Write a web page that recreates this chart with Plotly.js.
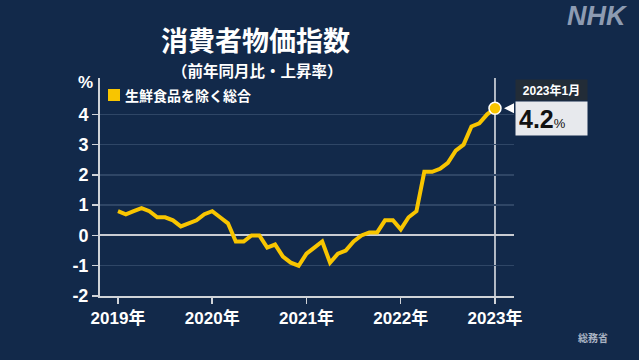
<!DOCTYPE html>
<html>
<head>
<meta charset="utf-8">
<script src="https://cdn.plot.ly/plotly-3.0.1.min.js"></script>
<style>
html,body{margin:0;padding:0;background:#12294a;}
#chart{width:639px;height:360px;}
</style>
</head>
<body>
<div id="chart"></div>
<script>
// Monthly index: 0 = 2019年1月 ... 48 = 2023年1月
const months = [];
for (let i = 0; i <= 48; i++) months.push(i);

const coreCPI = [
  0.8, 0.7, 0.8, 0.9, 0.8, 0.6, 0.6, 0.5, 0.3, 0.4, 0.5, 0.7,
  0.8, 0.6, 0.4, -0.2, -0.2, 0.0, 0.0, -0.4, -0.3, -0.7, -0.9, -1.0,
  -0.6, -0.4, -0.2, -0.9, -0.6, -0.5, -0.2, 0.0, 0.1, 0.1, 0.5, 0.5,
  0.2, 0.6, 0.8, 2.1, 2.1, 2.2, 2.4, 2.8, 3.0, 3.6, 3.7, 4.0,
  4.2
];

const xTickVals = [0, 12, 24, 36, 48];
const xTickText = ['2019年', '2020年', '2021年', '2022年', '2023年'];
const yTickVals = [-2, -1, 0, 1, 2, 3, 4];
const yTickText = ['-2', '-1', '0', '1', '2', '3', '4'];

const seriesName = '生鮮食品を除く総合';
const lastLabel = '2023年1月';

const lastX = months[months.length - 1];
const lastY = coreCPI[coreCPI.length - 1];

const BG = '#12294a';
const YELLOW = '#f8c500';
const JP = '"Noto Sans CJK JP", "Liberation Sans", sans-serif';
const NUM = '"Liberation Sans", "Noto Sans CJK JP", sans-serif';

const traces = [
  {
    x: months, y: coreCPI, type: 'scatter', mode: 'lines',
    line: {color: YELLOW, width: 4}, hoverinfo: 'skip', showlegend: false
  },
  {
    x: [lastX], y: [lastY], type: 'scatter', mode: 'markers',
    marker: {color: YELLOW, size: 12, line: {color: '#ffffff', width: 1.5}},
    hoverinfo: 'skip', showlegend: false
  }
];

const layout = {
  width: 639, height: 360,
  paper_bgcolor: BG, plot_bgcolor: BG,
  margin: {l: 100, r: 125, t: 78, b: 64},
  showlegend: false,
  xaxis: {
    range: [-2.29, 50.42], tickvals: xTickVals, ticktext: xTickText,
    showgrid: false, zeroline: false,
    showline: true, linecolor: '#d0d3d8', linewidth: 2,
    ticks: 'outside', ticklen: 6, tickcolor: '#d0d3d8', tickwidth: 1.5,
    tickfont: {family: NUM, size: 17, color: '#ffffff', weight: 'bold'},
    fixedrange: true
  },
  yaxis: {
    range: [-2, 5.2], tickvals: yTickVals, ticktext: yTickText,
    showgrid: true, gridcolor: '#2f4666', gridwidth: 1.5,
    zeroline: true, zerolinecolor: '#c9ccd2', zerolinewidth: 2,
    showline: true, linecolor: '#d0d3d8', linewidth: 2,
    ticks: 'outside', ticklen: 6, tickcolor: '#d0d3d8', tickwidth: 1.5,
    tickfont: {family: NUM, size: 18, color: '#ffffff', weight: 'bold'},
    fixedrange: true
  },
  shapes: [
    {type: 'line', xref: 'x', yref: 'paper', x0: lastX, x1: lastX, y0: -0.028, y1: 1,
     line: {color: '#e8eaee', width: 1.5}, layer: 'between'},
    {type: 'rect', xref: 'paper', yref: 'paper',
     x0: (108 - 100) / 414, x1: (120 - 100) / 414, y0: (296 - 101) / 218, y1: (296 - 89) / 218,
     fillcolor: YELLOW, line: {width: 0}},
    {type: 'path', xref: 'x', yref: 'y', xsizemode: 'pixel', ysizemode: 'pixel',
     xanchor: lastX, yanchor: lastY, path: 'M 9 0 L 20 5.5 L 20 -5.5 Z',
     fillcolor: '#ffffff', line: {width: 0}}
  ],
  annotations: [
    {text: '<b>消費者物価指数</b>', xref: 'paper', yref: 'paper',
     x: (255 - 100) / 414, y: (296 - 40) / 218, xanchor: 'center', yanchor: 'middle',
     showarrow: false, font: {family: JP, size: 27, color: '#ffffff'}},
    {text: '<b>（前年同月比・上昇率）</b>', xref: 'paper', yref: 'paper',
     x: (257 - 100) / 414, y: (296 - 70) / 218, xanchor: 'center', yanchor: 'middle',
     showarrow: false, font: {family: JP, size: 15.5, color: '#ffffff'}},
    {text: '<b>%</b>', xref: 'paper', yref: 'paper',
     x: (85 - 100) / 414, y: (296 - 82) / 218, xanchor: 'center', yanchor: 'middle',
     showarrow: false, font: {family: NUM, size: 17, color: '#ffffff'}},
    {text: '<b>' + seriesName + '</b>', xref: 'paper', yref: 'paper',
     x: (123 - 100) / 414, y: (296 - 95) / 218, xanchor: 'left', yanchor: 'middle',
     showarrow: false, font: {family: JP, size: 14, color: '#ffffff'}},
    {text: '<b>' + lastLabel + '</b>', xref: 'x', yref: 'y', x: lastX, y: lastY,
     xanchor: 'left', yanchor: 'bottom', xshift: 20, yshift: 7,
     width: 65, height: 14, borderpad: 3, bgcolor: '#222c37', align: 'center',
     showarrow: false, font: {family: NUM, size: 12, color: '#ffffff'}},
    {text: '<b>' + lastY.toFixed(1) + '</b><span style="font-size:13px">%</span>', xref: 'x', yref: 'y', x: lastX, y: lastY,
     xanchor: 'left', yanchor: 'top', xshift: 20, yshift: 7,
     width: 65, height: 27, borderpad: 3, bgcolor: '#e7e9ed', align: 'left',
     showarrow: false, font: {family: NUM, size: 25, color: '#111111'}},
    {text: '<b><i>NHK</i></b>', xref: 'paper', yref: 'paper',
     x: (597 - 100) / 414, y: (296 - 16) / 218, xanchor: 'center', yanchor: 'middle',
     showarrow: false, font: {family: NUM, size: 27, color: '#8d9bb2'}},
    {text: '<b>総務省</b>', xref: 'paper', yref: 'paper',
     x: (593 - 100) / 414, y: (296 - 337) / 218, xanchor: 'center', yanchor: 'middle',
     showarrow: false, font: {family: JP, size: 10, color: '#a9b3c3'}}
  ]
};

Plotly.newPlot('chart', traces, layout, {displayModeBar: false, staticPlot: true});
</script>
</body>
</html>
